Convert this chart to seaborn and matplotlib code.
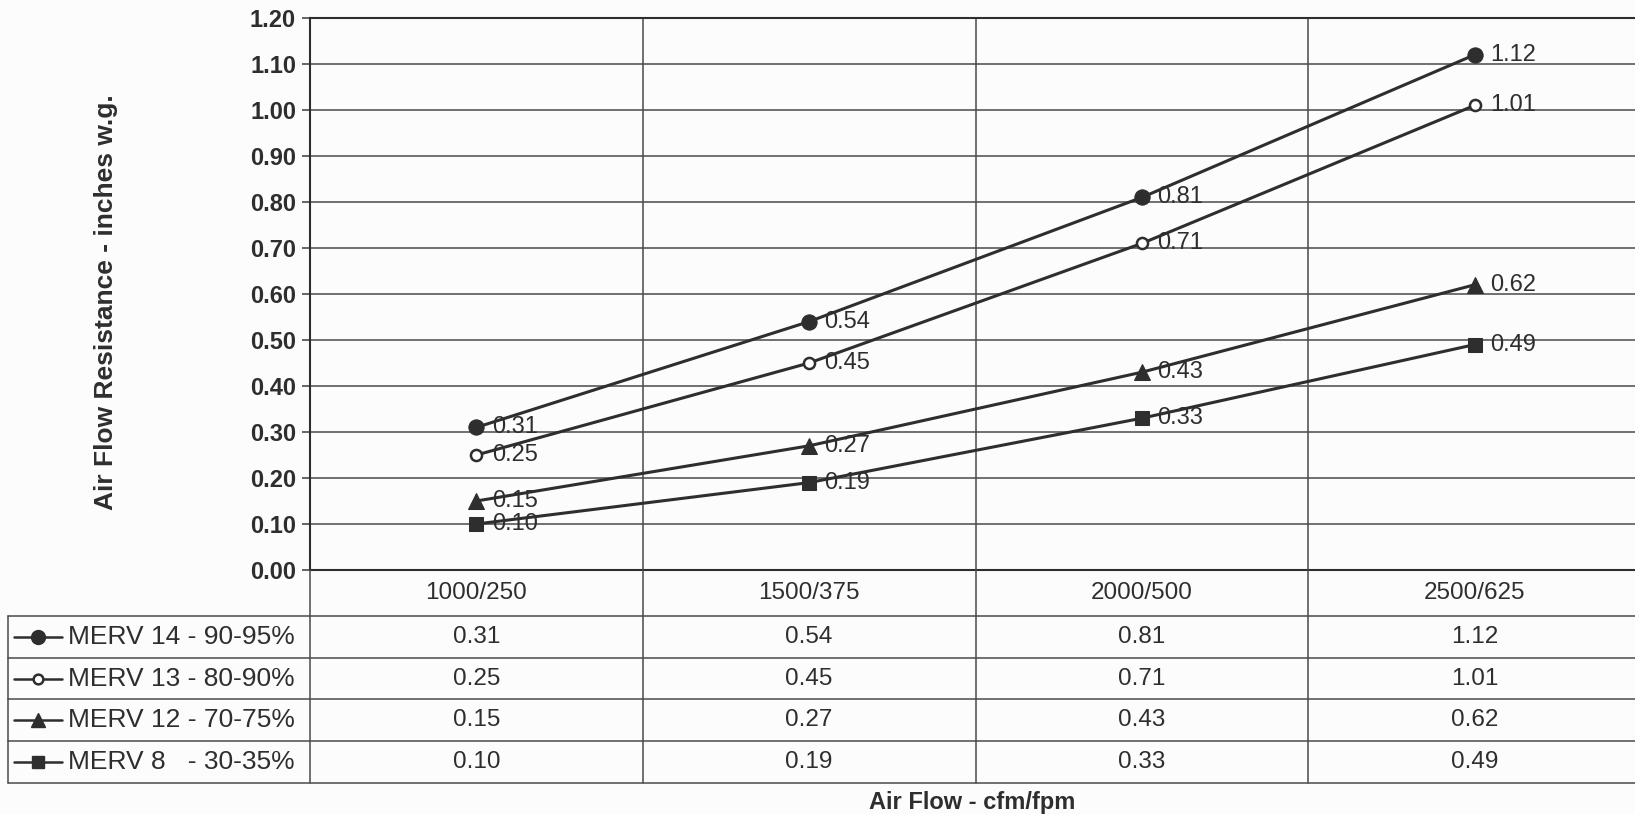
import matplotlib
matplotlib.use("Agg")
import matplotlib.pyplot as plt
import seaborn as sns
import pandas as pd

# ---------------- data ----------------
categories = ["1000/250", "1500/375", "2000/500", "2500/625"]
series_names = ["MERV 14 - 90-95%", "MERV 13 - 80-90%", "MERV 12 - 70-75%", "MERV 8   - 30-35%"]
merv14 = [0.31, 0.54, 0.81, 1.12]
merv13 = [0.25, 0.45, 0.71, 1.01]
merv12 = [0.15, 0.27, 0.43, 0.62]
merv8 = [0.10, 0.19, 0.33, 0.49]
all_values = [merv14, merv13, merv12, merv8]

y_ticks = [0.0, 0.1, 0.2, 0.3, 0.4, 0.5, 0.6, 0.7, 0.8, 0.9, 1.0, 1.1, 1.2]

# long table for seaborn
rows = []
for name, vals in zip(series_names, all_values):
    for i, v in enumerate(vals):
        rows.append({"series": name, "pos": i, "value": v})
df = pd.DataFrame(rows)

# ---------------- style ----------------
sns.set_theme(style="white")
plt.rcParams["font.family"] = ["Liberation Sans", "DejaVu Sans"]

INK = "#2e2e2e"
GRID = "#4a4a4a"
BG = "#fcfcfc"

marker_style = {
    series_names[0]: dict(marker="o", markersize=11, markerfacecolor=INK),
    series_names[1]: dict(marker="o", markersize=8, markerfacecolor="white", markeredgewidth=1.8),
    series_names[2]: dict(marker="^", markersize=11, markerfacecolor=INK),
    series_names[3]: dict(marker="s", markersize=10, markerfacecolor=INK),
}

W, H = 1635, 814
AX_L = 310          # left edge of plot area, px
COL_W = 332.75      # width of one category column, px

fig = plt.figure(figsize=(W / 100, H / 100), dpi=100)
fig.patch.set_facecolor(BG)

# plot area (right edge runs just off the page like the scan)
ax = fig.add_axes([AX_L / W, 1 - 570 / H, 4 * COL_W / W, 552 / H])
ax.set_facecolor(BG)

for name in series_names:
    sub = df[df["series"] == name]
    sns.lineplot(
        data=sub, x="pos", y="value", ax=ax,
        color=INK, linewidth=2.2, markeredgecolor=INK,
        legend=False, **marker_style[name]
    )
    for _, r in sub.iterrows():
        ax.annotate(
            f"{r['value']:.2f}", (r["pos"], r["value"]),
            xytext=(11, 0), textcoords="offset points",
            ha="left", va="center", fontsize=17, color=INK
        )

ax.set_xlim(-0.5, len(categories) - 0.5)
ax.set_ylim(0, 1.2)
ax.set_yticks(y_ticks)
ax.set_yticklabels([f"{t:.2f}" for t in y_ticks], fontsize=17,
                   fontweight="bold", color=INK)
ax.set_xticks([])
ax.tick_params(axis="y", direction="out", length=6, width=1.2,
               color=GRID, pad=4, left=True)
ax.yaxis.grid(True, color=GRID, linewidth=1.1)
for k in range(1, len(categories)):
    ax.axvline(k - 0.5, color=GRID, linewidth=1.1, zorder=0)
for side in ["left", "top", "bottom", "right"]:
    ax.spines[side].set_color(INK)
    ax.spines[side].set_linewidth(1.5)
ax.set_xlabel("")
ax.set_ylabel("Air Flow Resistance - inches w.g.", fontsize=19,
              fontweight="bold", color=INK)
ax.yaxis.set_label_coords((118 - AX_L) / (4 * COL_W), 0.485)

# ---------------- data table ----------------
tax = fig.add_axes([AX_L / W, 1 - 783 / H, 4 * COL_W / W, 213 / H])
tax.set_xlim(-0.5, len(categories) - 0.5)
header_h = 1.1
edges = [0] + [header_h + i for i in range(len(series_names) + 1)]
tax.set_ylim(edges[-1], 0)
tax.axis("off")


def px_x(p):
    return (p - AX_L) / COL_W - 0.5


x_left = px_x(8)
x_right = len(categories) - 0.5
line_kw = dict(color=GRID, linewidth=1.1, clip_on=False)

for y in edges[1:]:
    tax.plot([x_left, x_right], [y, y], **line_kw)
tax.plot([x_left, x_left], [edges[1], edges[-1]], **line_kw)
for k in range(len(categories)):
    tax.plot([k - 0.5, k - 0.5], [0, edges[-1]], **line_kw)

for i, cat in enumerate(categories):
    tax.text(i, header_h / 2, cat, ha="center", va="center",
             fontsize=17.5, color=INK)

for j, (name, vals) in enumerate(zip(series_names, all_values)):
    yc = (edges[j + 1] + edges[j + 2]) / 2
    tax.plot([px_x(14), px_x(62)], [yc, yc], color=INK, linewidth=1.8,
             clip_on=False)
    tax.plot([px_x(38)], [yc], color=INK, linestyle="none", clip_on=False,
             markeredgecolor=INK, **{**marker_style[name],
                                     "markersize": marker_style[name]["markersize"] - 1})
    tax.text(px_x(68), yc, name, ha="left", va="center", fontsize=19,
             color=INK, clip_on=False)
    for i, v in enumerate(vals):
        tax.text(i, yc, f"{v:.2f}", ha="center", va="center",
                 fontsize=17.5, color=INK)

fig.text(972 / W, 1 - 802 / H, "Air Flow - cfm/fpm", ha="center", va="center",
         fontsize=17, fontweight="bold", color=INK)

fig.savefig("out.png", dpi=100, facecolor=BG)
